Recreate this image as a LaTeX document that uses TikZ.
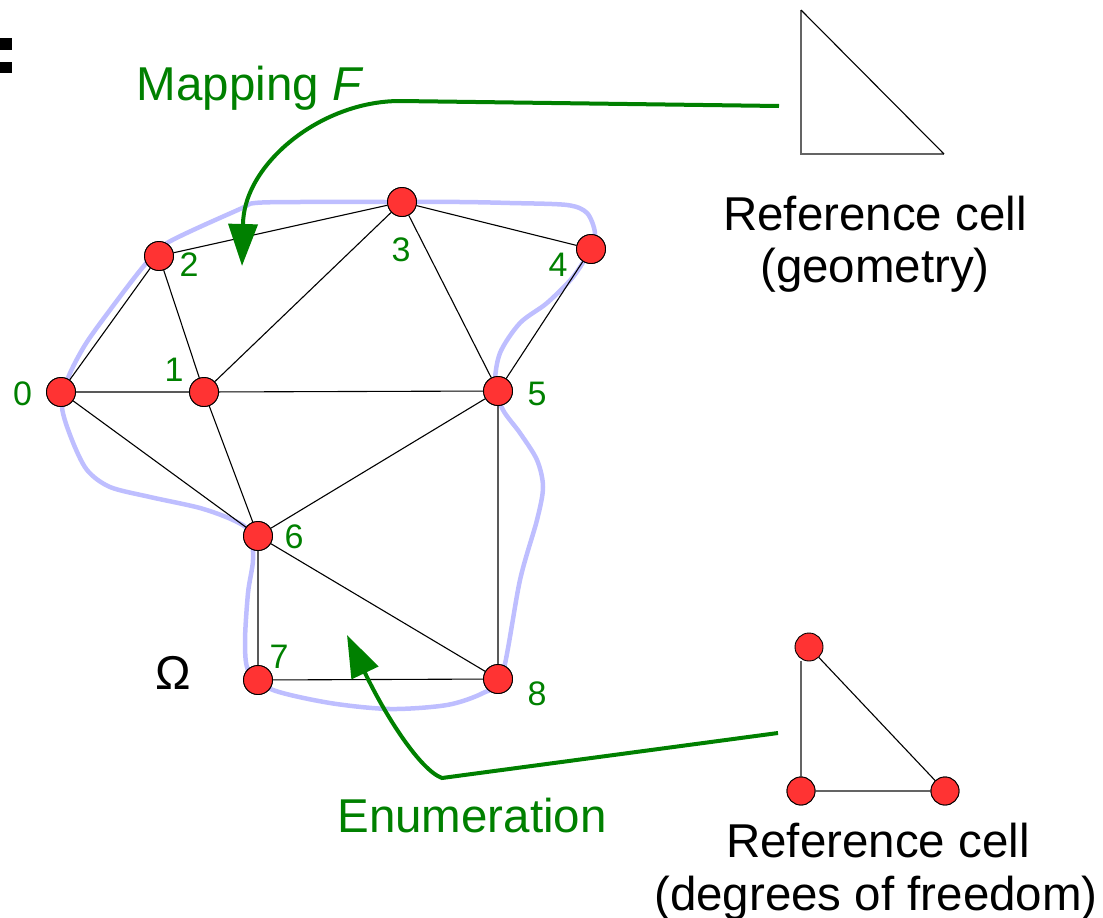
\documentclass[tikz,border=0pt]{standalone}
\usepackage{fontspec}
\setmainfont{Liberation Sans}
\usetikzlibrary{arrows.meta}
\definecolor{dkgreen}{RGB}{0,128,0}
\definecolor{dotred}{RGB}{255,51,51}
\definecolor{bnd}{RGB}{190,190,255}
\definecolor{edgegray}{RGB}{100,100,100}
\tikzset{
  vert/.style={circle,fill=dotred,draw=black,line width=0.9pt,minimum size=29pt,inner sep=0pt},
  dvert/.style={circle,fill=dotred,draw=black,line width=0.9pt,minimum size=28pt,inner sep=0pt},
  edge/.style={draw=black,line width=1.1pt},
  refedge/.style={draw=edgegray,line width=2pt},
  num/.style={text=dkgreen,inner sep=0pt,font=\fontsize{34pt}{40pt}\selectfont},
  bigtext/.style={inner sep=0pt,anchor=base,font=\fontsize{47.5pt}{57pt}\selectfont},
  greenarrow/.style={draw=dkgreen,line width=4pt,-{Triangle[width=29pt,length=42pt]}},
  boundary/.style={draw=bnd,line width=4.5pt}
}
\begin{document}
\begin{tikzpicture}[x=1pt,y=-1pt]
\useasboundingbox (0,0) rectangle (1103,918);
% cut-off colon
\fill[black] (0,38) rectangle (12,50);
\fill[black] (0,62) rectangle (12,73);
% boundary curve
\draw[boundary] plot[smooth cycle,tension=0.5] coordinates {
 (68,378) (62,407) (72,440) (87,470) (110,487) (150,497) (200,508) (233,520) (250,532)
 (253,560) (248,593) (245,643) (249,672) (273,690) (330,703) (390,709) (447,705) (483,693)
 (502,676) (520,580) (537,520) (543,487) (537,460) (520,433) (503,410) (495,385) (500,353)
 (520,323) (547,303) (573,277) (590,250) (595,233) (587,213) (567,205) (510,203) (460,202)
 (390,202) (300,202) (255,203) (240,209) (167,243) (143,267) (110,310) (85,345)};
% mesh vertices
\node[vert] (n0) at (61,392) {};
\node[vert] (n1) at (204,392) {};
\node[vert] (n2) at (159,256) {};
\node[vert] (n3) at (402,202) {};
\node[vert] (n4) at (591,249) {};
\node[vert] (n5) at (498,391) {};
\node[vert] (n6) at (258,536) {};
\node[vert] (n7) at (258,680) {};
\node[vert] (n8) at (498,679) {};
\path[edge] (n0) -- (n2) (n0) -- (n1) (n0) -- (n6) (n1) -- (n2) (n1) -- (n3)
  (n1) -- (n5) (n1) -- (n6) (n2) -- (n3) (n3) -- (n4) (n3) -- (n5) (n4) -- (n5)
  (n5) -- (n6) (n5) -- (n8) (n6) -- (n7) (n6) -- (n8) (n7) -- (n8);
\foreach \p in {(61,392),(204,392),(159,256),(402,202),(591,249),(498,391),(258,536),(258,680),(498,679)}
  {\node[vert] at \p {};}
% numbers
\node[num] (l0) at (22.5,394) {0};
\node[num] (l1) at (174,370) {1};
\node[num] (l2) at (189,265) {2};
\node[num] (l3) at (401,250) {3};
\node[num] (l4) at (558,265) {4};
\node[num] (l5) at (537,394) {5};
\node[num] (l6) at (294,537) {6};
\node[num] (l7) at (279,657) {7};
\node[num] (l8) at (537,694) {8};
\node[bigtext] (omega) at (173,689) {Ω};
% reference cell (geometry)
\coordinate (g0) at (801,10);
\coordinate (g1) at (801,154);
\coordinate (g2) at (944,154);
\draw[refedge] (g0) -- (g1) -- (g2);
\draw[edge] (g0) -- (g2);
\node[bigtext] (rc1) at (875,230) {Reference cell};
\node[bigtext] (rc1b) at (875,282) {(geometry)};
% reference cell (dofs)
\node[dvert] (d1) at (801,791) {};
\node[dvert] (d2) at (945,791) {};
\node[dvert] (d0) at (809,647) {};
\draw[refedge] (d1) -- (d2);
\draw[refedge] (d1.center) -- (d1 |- d0.south);
\draw[edge] (d0) -- (d2);
\node[dvert] at (801,791) {};
\node[dvert] at (945,791) {};
\node[bigtext] (rc2) at (878,857) {Reference cell};
\node[bigtext] (rc2b) at (876,910) {(degrees of freedom)};
% mapping arrow
\node[bigtext,text=dkgreen] (maplbl) at (250,100) {Mapping \textit{F}};
\coordinate (mapS) at (779,106);
\coordinate (mapT) at (242,266);
\draw[greenarrow] (mapS) -- (400,101) .. controls (320,101) and (243,165) .. (243,225) -- (mapT);
% enumeration arrow
\node[bigtext,text=dkgreen] (enlbl) at (472,832) {Enumeration};
\coordinate (enS) at (778,733);
\coordinate (enT) at (347,635);
\draw[greenarrow] (enS) -- (442,778) .. controls (420,770) and (385,715) .. (enT);
\end{tikzpicture}
\end{document}
